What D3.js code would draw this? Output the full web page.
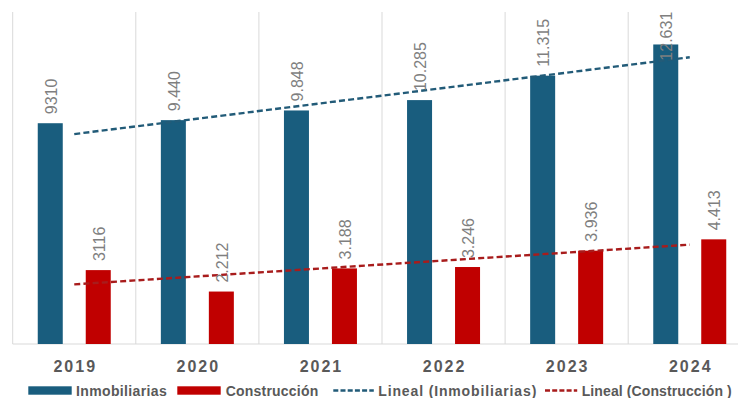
<!DOCTYPE html>
<html>
<head>
<meta charset="utf-8">
<script src="https://cdn.jsdelivr.net/npm/d3@7"></script>
<style>
  html, body { margin: 0; padding: 0; background: #ffffff; }
  svg { display: block; font-family: "Liberation Sans", Arial, sans-serif; }
</style>
</head>
<body>
<svg id="chart" width="738" height="398"></svg>
<script>
// Empresas por año: inmobiliarias y construcción
const years = ["2019", "2020", "2021", "2022", "2023", "2024"];
const inmobiliarias = [9310, 9440, 9848, 10285, 11315, 12631];
const construccion = [3116, 2212, 3188, 3246, 3936, 4413];
const inmobLabels = ["9310", "9.440", "9.848", "10.285", "11.315", "12.631"];
const construLabels = ["3116", "2.212", "3.188", "3.246", "3.936", "4.413"];
const seriesNames = ["Inmobiliarias", "Construcción"];
const trendNames = ["Lineal (Inmobiliarias)", "Lineal (Construcción )"];
const yMax = 14000;

const colors = { inmob: "#195d7e", constr: "#c00000", inmobTrend: "#225b78", constrTrend: "#a81c1c" };

const svg = d3.select("#chart");
const plot = { left: 12.7, right: 751.3, top: 12, bottom: 344 };

const x = d3.scaleBand().domain(years).range([plot.left, plot.right]).paddingInner(0).paddingOuter(0);
const xSub = d3.scaleBand().domain(seriesNames).range([0, x.bandwidth()]).paddingInner(0.479).paddingOuter(0.522);
const y = d3.scaleLinear().domain([0, yMax]).range([plot.bottom, plot.top]);

// vertical category separators
const seps = d3.range(years.length + 1).map(i => plot.left + i * x.step());
svg.append("g").selectAll("line").data(seps).join("line")
  .attr("x1", d => d).attr("x2", d => d)
  .attr("y1", plot.top).attr("y2", plot.bottom)
  .attr("stroke", "#d9d9d9").attr("stroke-width", 1);

// baseline
svg.append("line")
  .attr("x1", plot.left).attr("x2", 738)
  .attr("y1", plot.bottom).attr("y2", plot.bottom)
  .attr("stroke", "#d9d9d9").attr("stroke-width", 1);

const rows = years.map((yr, i) => ({ year: yr, inmob: inmobiliarias[i], constr: construccion[i], li: inmobLabels[i], lc: construLabels[i] }));

// bars
const gBars = svg.append("g");
gBars.selectAll("rect.inmob").data(rows).join("rect")
  .attr("class", "inmob")
  .attr("x", d => x(d.year) + xSub("Inmobiliarias"))
  .attr("width", xSub.bandwidth())
  .attr("y", d => y(d.inmob))
  .attr("height", d => y(0) - y(d.inmob))
  .attr("fill", colors.inmob);
gBars.selectAll("rect.constr").data(rows).join("rect")
  .attr("class", "constr")
  .attr("x", d => x(d.year) + xSub("Construcción"))
  .attr("width", xSub.bandwidth())
  .attr("y", d => y(d.constr))
  .attr("height", d => y(0) - y(d.constr))
  .attr("fill", colors.constr);

// linear trend lines (least squares over the category index)
function linearFit(vals) {
  const n = vals.length;
  const xs = d3.range(1, n + 1);
  const mx = d3.mean(xs), my = d3.mean(vals);
  const num = d3.sum(xs, (xi, i) => (xi - mx) * (vals[i] - my));
  const den = d3.sum(xs, xi => (xi - mx) * (xi - mx));
  const b = num / den, a = my - b * mx;
  return xi => a + b * xi;
}
function drawTrend(vals, color) {
  const f = linearFit(vals);
  const pts = [1, vals.length].map(k => [x(years[k - 1]) + x.bandwidth() / 2, y(f(k))]);
  svg.append("path")
    .attr("d", d3.line()(pts))
    .attr("fill", "none")
    .attr("stroke", color)
    .attr("stroke-width", 2.4)
    .attr("stroke-dasharray", "6,3.2");
}
drawTrend(inmobiliarias, colors.inmobTrend);
drawTrend(construccion, colors.constrTrend);

// value labels, rotated, kept inside the chart area
function valueLabels(key, lkey, series) {
  svg.append("g").selectAll("text").data(rows).join("text")
    .attr("font-size", 16)
    .attr("fill", "#7f7f7f")
    .attr("dy", "0.35em")
    .text(d => d[lkey])
    .each(function (d) {
      const len = this.getComputedTextLength();
      let yBase = y(d[key]) - 9;
      if (yBase - len < 11.7) yBase = 11.7 + len;
      const cx = x(d.year) + xSub(series) + xSub.bandwidth() / 2 + 1;
      d3.select(this).attr("transform", `translate(${cx},${yBase}) rotate(-90)`);
    });
}
valueLabels("inmob", "li", "Inmobiliarias");
valueLabels("constr", "lc", "Construcción");

// category axis labels
svg.append("g").selectAll("text").data(years).join("text")
  .attr("x", d => x(d) + x.bandwidth() / 2 + 1)
  .attr("y", 372)
  .attr("text-anchor", "middle")
  .attr("font-size", 16)
  .attr("font-weight", "bold")
  .attr("letter-spacing", 2)
  .attr("fill", "#595959")
  .text(d => d);

// legend
const legend = svg.append("g").attr("font-size", 14).attr("font-weight", "bold").attr("fill", "#595959");
const ly = 390.5;
const items = [
  { type: "rect", color: colors.inmob, label: seriesNames[0], x0: 28.3, tx: 76, w: 90.7 },
  { type: "rect", color: colors.constr, label: seriesNames[1], x0: 177.3, tx: 225.7, w: 92.6 },
  { type: "line", color: colors.inmobTrend, label: trendNames[0], x0: 333.3, tx: 378.3, w: 158 },
  { type: "line", color: colors.constrTrend, label: trendNames[1], x0: 545, tx: 581.7, w: 150 }
];
items.forEach(it => {
  if (it.type === "rect") {
    legend.append("rect").attr("x", it.x0).attr("y", ly - 4.2).attr("width", 43.4).attr("height", 8.4).attr("fill", it.color);
  } else {
    legend.append("line").attr("x1", it.x0).attr("x2", it.tx - 4.5).attr("y1", ly).attr("y2", ly)
      .attr("stroke", it.color).attr("stroke-width", 2.3).attr("stroke-dasharray", "5,2.2");
  }
  legend.append("text").attr("x", it.tx).attr("y", ly).attr("dy", "0.36em")
    .attr("textLength", it.w).attr("lengthAdjust", "spacing")
    .text(it.label);
});
</script>
</body>
</html>
